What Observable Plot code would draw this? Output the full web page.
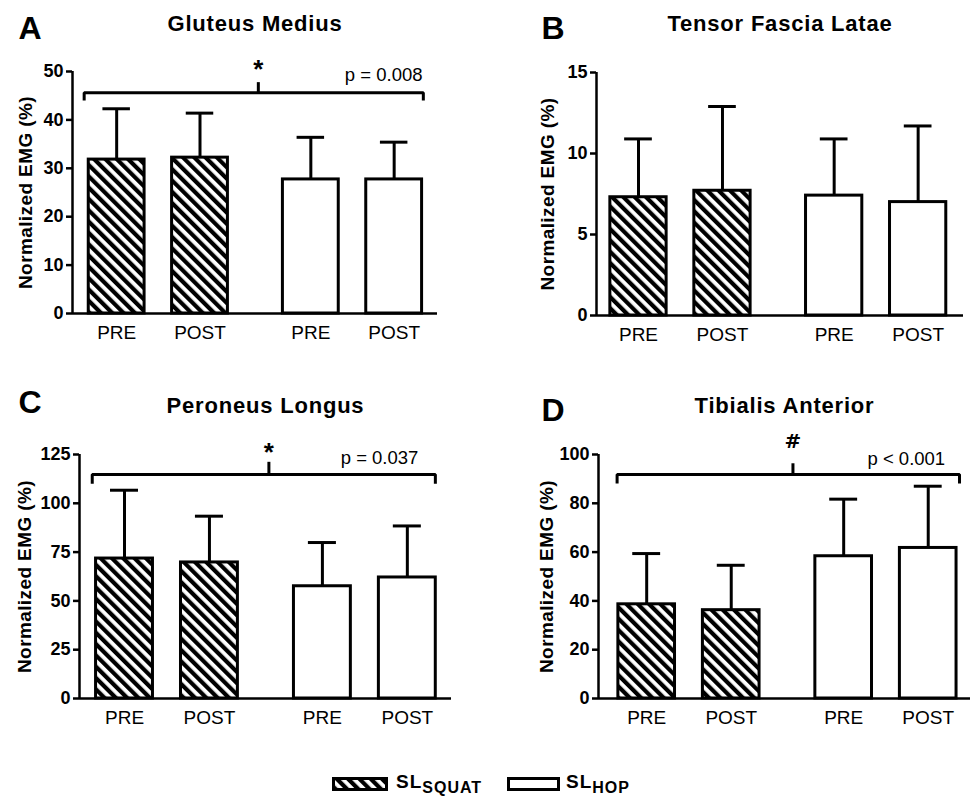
<!DOCTYPE html>
<html><head><meta charset="utf-8">
<script src="https://cdn.jsdelivr.net/npm/d3@7"></script>
<script src="https://cdn.jsdelivr.net/npm/@observablehq/plot@0.6"></script>
<style>
html,body{margin:0;padding:0;background:#fff;}
#root{position:relative;width:970px;height:801px;overflow:hidden;font-family:"Liberation Sans",Arial,sans-serif;color:#000;}
.panel{position:absolute;}
.panel svg{display:block;overflow:visible;}
.leg{position:absolute;font-weight:bold;white-space:nowrap;line-height:1;}
</style></head><body>
<svg width="0" height="0" style="position:absolute">
  <defs>
    <pattern id="hatch" patternUnits="userSpaceOnUse" width="8" height="8" patternTransform="rotate(-45)">
      <rect width="8" height="8" fill="white"/>
      <rect width="4.2" height="8" fill="black"/>
    </pattern>
  </defs>
</svg>
<div id="root"></div>
<script>
// ---------- data ----------
const panelLetters = ["A", "B", "C", "D"];
const muscles = ["Gluteus Medius", "Tensor Fascia Latae", "Peroneus Longus", "Tibialis Anterior"];
const conditions = ["PRE", "POST", "PRE", "POST"];
const groups = ["SQUAT", "SQUAT", "HOP", "HOP"];
const gluteusMedius = [31.8, 32.2, 27.7, 27.7];
const gluteusMediusSD = [10.5, 9.2, 8.7, 7.7];
const tensorFasciaLatae = [7.3, 7.7, 7.4, 7.0];
const tensorFasciaLataeSD = [3.6, 5.2, 3.5, 4.7];
const peroneusLongus = [71.7, 69.7, 57.5, 62.0];
const peroneusLongusSD = [35.0, 23.7, 22.4, 26.4];
const tibialisAnterior = [38.6, 36.2, 58.3, 61.7];
const tibialisAnteriorSD = [20.8, 18.4, 23.4, 25.3];
const yMax = [50, 15, 125, 100];
const yTicksA = [0, 10, 20, 30, 40, 50];
const yTicksB = [0, 5, 10, 15];
const yTicksC = [0, 25, 50, 75, 100, 125];
const yTicksD = [0, 20, 40, 60, 80, 100];
const sigSymbols = ["*", "", "*", "#"];
const pLabels = ["p = 0.008", "", "p = 0.037", "p < 0.001"];
const yLabel = "Normalized EMG (%)";
const legendMain = ["SL", "SL"];
const legendSub = ["SQUAT", "HOP"];

const means = [gluteusMedius, tensorFasciaLatae, peroneusLongus, tibialisAnterior];
const sds = [gluteusMediusSD, tensorFasciaLataeSD, peroneusLongusSD, tibialisAnteriorSD];
const yTicks = [yTicksA, yTicksB, yTicksC, yTicksD];

// ---------- layout ----------
const GAP = 0.33, HALF = 0.335, CAP = 0.165;
const layout = [
  {left:0, top:0, width:480, height:370, mL:72, mR:43, mT:71, mB:57, xDomain:[-0.53,3.85], titleY:30, letterX:18, letterY:38, ylabX:25,
   br:{x1:-0.39, x2:3.68, y:45.6, end:44.0, mid:1.7, top:47.7, symY:51.9, pX:3.67, pY:48.0}},
  {left:480, top:0, width:490, height:370, mL:116, mR:7, mT:72, mB:55, xDomain:[-0.5,3.87], titleY:30, letterX:61, letterY:38, ylabX:67, br:null},
  {left:0, top:370, width:480, height:380, mL:79, mR:29, mT:84, mB:52, xDomain:[-0.53,3.85], titleY:42, letterX:18, letterY:42, ylabX:24.5,
   br:{x1:-0.38, x2:3.66, y:114.8, end:110, mid:1.7, top:121, symY:129.5, pX:3.46, pY:120}},
  {left:480, top:370, width:490, height:380, mL:118, mR:0, mT:84, mB:52, xDomain:[-0.57,3.83], titleY:42, letterX:61, letterY:50, ylabX:66,
   br:{x1:-0.35, x2:3.70, y:91.8, end:88.1, mid:1.73, top:96.2, symY:105.2, pX:3.53, pY:95.6}}
];

const root = document.getElementById("root");

function makePanel(k) {
  const L = layout[k];
  const bars = conditions.map((c, i) => ({
    cond: c, group: groups[i], pos: i + (groups[i] === "HOP" ? GAP : 0),
    mean: means[k][i], sd: sds[k][i]
  }));
  const marks = [
    Plot.ruleX(bars, {x: "pos", y1: "mean", y2: d => d.mean + d.sd, strokeWidth: 3}),
    Plot.ruleY(bars, {y: d => d.mean + d.sd, x1: d => d.pos - CAP, x2: d => d.pos + CAP, strokeWidth: 3}),
    Plot.rectY(bars.filter(d => d.group === "SQUAT"), {x1: d => d.pos - HALF, x2: d => d.pos + HALF, y1: 0, y2: "mean", fill: "url(#hatch)", stroke: "black", strokeWidth: 3}),
    Plot.rectY(bars.filter(d => d.group === "HOP"), {x1: d => d.pos - HALF, x2: d => d.pos + HALF, y1: 0, y2: "mean", fill: "white", stroke: "black", strokeWidth: 3}),
    Plot.ruleY([0], {strokeWidth: 2.5}),
    Plot.ruleX([L.xDomain[0]], {strokeWidth: 2.5}),
    Plot.axisY({ticks: yTicks[k], tickSize: 6, tickPadding: 3, fontSize: 18, fontWeight: "bold", strokeWidth: 2.5, label: null, tickFormat: d => String(d)}),
    Plot.text(bars, {x: "pos", text: "cond", frameAnchor: "bottom", dy: 25, lineAnchor: "bottom", fontSize: 19}),
    Plot.text([muscles[k]], {frameAnchor: "top", dy: L.titleY - L.mT, lineAnchor: "bottom", fontSize: 22, fontWeight: "bold"}),
    Plot.text([panelLetters[k]], {frameAnchor: "top-left", dx: L.letterX - L.mL, dy: L.letterY - L.mT, lineAnchor: "bottom", textAnchor: "start", fontSize: 32, fontWeight: "bold"}),
    Plot.text([yLabel], {frameAnchor: "left", dx: L.ylabX - L.mL, rotate: -90, textAnchor: "middle", lineAnchor: "middle", fontSize: 19, fontWeight: "bold"})
  ];
  if (L.br) {
    const b = L.br;
    const isStar = sigSymbols[k] === "*";
    marks.push(
      Plot.line([[b.x1, b.end], [b.x1, b.y], [b.x2, b.y], [b.x2, b.end]], {strokeWidth: 3, strokeLinejoin: "miter", strokeLinecap: "butt"}),
      Plot.ruleX([b.mid], {y1: b.y, y2: b.top, strokeWidth: 3}),
      Plot.text([sigSymbols[k]], {x: b.mid, y: b.symY, fontSize: isStar ? 26 : 20, fontWeight: "bold", fontFamily: isStar ? '"Liberation Sans", Arial, sans-serif' : '"DejaVu Sans", sans-serif', dy: isStar ? 7 : 0}),
      Plot.text([pLabels[k]], {x: b.pX, y: b.pY, textAnchor: "end", lineAnchor: "bottom", fontSize: 18.5})
    );
  }
  const chart = Plot.plot({
    width: L.width, height: L.height,
    marginLeft: L.mL, marginRight: L.mR, marginTop: L.mT, marginBottom: L.mB,
    x: {type: "linear", domain: L.xDomain, axis: null},
    y: {domain: [0, yMax[k]], axis: null},
    style: {fontFamily: '"Liberation Sans", Arial, sans-serif', fontSize: "17px", color: "black", background: "transparent", overflow: "visible"},
    marks
  });
  d3.select(chart).selectAll("text").filter(function() { return this.textContent === muscles[k]; }).attr("letter-spacing", "0.8px");
  d3.select(chart).selectAll("text").filter(function() { return this.textContent === yLabel; }).attr("letter-spacing", "0.4px");
  const div = document.createElement("div");
  div.className = "panel";
  div.style.left = L.left + "px";
  div.style.top = L.top + "px";
  div.style.width = L.width + "px";
  div.style.height = L.height + "px";
  div.appendChild(chart);
  root.appendChild(div);
}
for (let k = 0; k < 4; k++) makePanel(k);

// ---------- legend ----------
const legendLayout = [
  {swX: 332, swW: 53, textX: 396},
  {swX: 507, swW: 50, textX: 566}
];
legendMain.forEach((m, i) => {
  const g = legendLayout[i];
  const sw = document.createElementNS("http://www.w3.org/2000/svg", "svg");
  sw.setAttribute("width", g.swW + 3); sw.setAttribute("height", 15);
  sw.style.position = "absolute"; sw.style.left = g.swX + "px"; sw.style.top = "777px";
  const r = document.createElementNS("http://www.w3.org/2000/svg", "rect");
  r.setAttribute("x", 1.5); r.setAttribute("y", 1.5); r.setAttribute("width", g.swW); r.setAttribute("height", 11);
  r.setAttribute("fill", i === 0 ? "url(#hatch)" : "white");
  r.setAttribute("stroke", "black"); r.setAttribute("stroke-width", 3);
  sw.appendChild(r);
  root.appendChild(sw);
  const t = document.createElement("div");
  t.className = "leg";
  t.style.left = g.textX + "px";
  t.style.top = "772px";
  t.style.fontSize = "19px";
  t.style.letterSpacing = "1px";
  t.innerHTML = m + '<span style="font-size:16px;position:relative;top:5px;letter-spacing:1px">' + legendSub[i] + '</span>';
  root.appendChild(t);
});
</script>
</body></html>
